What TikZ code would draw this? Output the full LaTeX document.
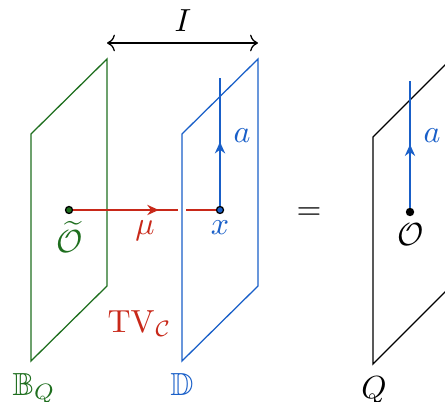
\documentclass[tikz,border=0pt]{standalone}
\usepackage{amsmath,amssymb}
\usepackage{tikz}
\usetikzlibrary{arrows.meta,decorations.markings,positioning}
\definecolor{qgreen}{RGB}{30,110,30}
\definecolor{tvred}{RGB}{200,40,25}
\definecolor{dblue}{RGB}{25,95,200}
\tikzset{
    plane/.style = {line width=0.4pt},
    dot/.style = {draw=black, circle, inner sep=0pt, minimum size=2.2pt},
    wire/.style = {line width=0.8pt},
    lab/.style = {inner sep=0pt},
    midarrow/.style = {postaction={decorate, decoration={markings,
        mark=at position #1 with {\arrow{Stealth[length=3.6pt, width=3.2pt]}}}}},
}

\begin{document}
\begin{tikzpicture}[x=0.011cm, y=-0.011cm]
\useasboundingbox (0,0) rectangle (445,402);
\clip (0,0) rectangle (445,402);

% Boundary plane B_Q
\draw[plane, qgreen] (31,361) -- (31,134) -- (107,59) -- (107,286) -- cycle;

% Points
\node[dot, fill=qgreen] (otl) at (69,210) {};
\node[dot, fill=dblue] (xpt) at (220,210) {};
\node[dot, fill=black] (opt) at (410,212) {};
\coordinate (atop) at (220,78);
\coordinate (btop) at (410,81);

% Line mu from O~ to x
\draw[wire, tvred, midarrow=0.6] (otl) -- (xpt);

% Defect plane D (cuts the line mu)
\draw[white, line width=2.6pt] (182,361) -- (182,134);
\draw[plane, dblue] (182,361) -- (182,134) -- (258,59) -- (258,286) -- cycle;

% Line a on D
\draw[wire, dblue, midarrow=0.5] (xpt) -- (atop);

% Width of the slab
\coordinate (il) at (107,43);
\coordinate (ir) at (258,43);
\draw[<->] (il) -- (ir);
\node[lab, anchor=base] (ilab) at (183,32) {$I$};

% Right hand side
\node[lab, anchor=base] (eq) at (309,220) {$=$};
\draw[plane, black] (373,364) -- (373,137) -- (449,61) -- (449,288) -- cycle;
\draw[wire, dblue, midarrow=0.5] (opt) -- (btop);

% Labels
\node[lab, anchor=base, text=qgreen] (olab) at (70,253) {$\widetilde{\mathcal{O}}$};
\node[lab, anchor=base, text=tvred] (mulab) at (145,235) {$\mu$};
\node[lab, anchor=base, text=dblue] (xlab) at (220,235) {$x$};
\node[lab, anchor=base west, text=dblue] (alab) at (233,143) {$a$};
\node[lab, anchor=base west, text=tvred] (tvlab) at (107,332) {$\mathrm{TV}_{\mathcal{C}}$};
\node[lab, anchor=base west, text=qgreen] (bqlab) at (12,395) {$\mathbb{B}_Q$};
\node[lab, anchor=base, text=dblue] (dlab) at (182,395) {$\mathbb{D}$};
\node[lab, anchor=base] (olab2) at (411,246) {$\mathcal{O}$};
\node[lab, anchor=base west, text=dblue] (alab2) at (423,143) {$a$};
\node[lab, anchor=base] (qlab) at (374,398) {$Q$};

\end{tikzpicture}
\end{document}
